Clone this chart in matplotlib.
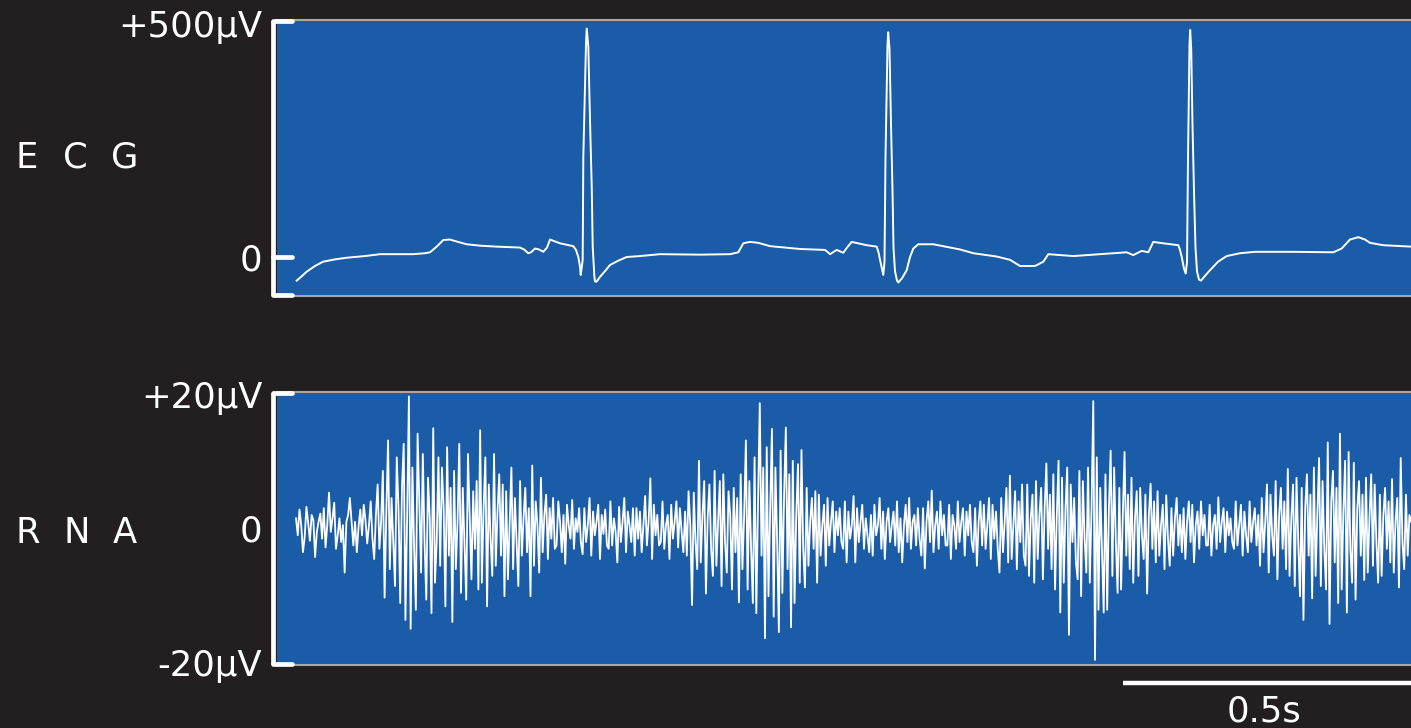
import numpy as np
import matplotlib
matplotlib.use("Agg")
import matplotlib.pyplot as plt
from matplotlib import transforms

plt.rcParams['font.family'] = ['DejaVu Sans']

# ---------------------------------------------------------------- data
# ECG trace vertices: time (s) and amplitude (uV)
ecg_t = [0.0342, 0.0399, 0.0516, 0.0660, 0.0799, 0.1007, 0.1210, 0.1528, 0.1788, 0.2361,
         0.2569, 0.2656, 0.2773, 0.2887, 0.3003, 0.3142, 0.3293, 0.3524, 0.3814, 0.4219,
         0.4288, 0.4363, 0.4410, 0.4479, 0.4549, 0.4623, 0.4688, 0.4740, 0.4826, 0.4913,
         0.5144, 0.5191, 0.5231, 0.5260, 0.5273, 0.5307, 0.5318, 0.5365, 0.5377, 0.5405,
         0.5434, 0.5464, 0.5481, 0.5509, 0.5521, 0.5550, 0.5608, 0.5694, 0.5781, 0.5920,
         0.6071, 0.6302, 0.6649, 0.7344, 0.7865, 0.8009, 0.8095, 0.8212, 0.8356, 0.8559,
         0.9080, 0.9514, 0.9566, 0.9601, 0.9653, 0.9717, 0.9774, 0.9832, 0.9896, 0.9977,
         1.0087, 1.0238, 1.0411, 1.0443, 1.0469, 1.0526, 1.0547, 1.0564, 1.0599, 1.0611,
         1.0634, 1.0660, 1.0686, 1.0703, 1.0729, 1.0764, 1.0786, 1.0851, 1.0932, 1.0990,
         1.1047, 1.1134, 1.1394, 1.1858, 1.2089, 1.2495, 1.2726, 1.2899, 1.3160, 1.3304,
         1.3391, 1.3825, 1.4288, 1.4752, 1.4866, 1.5012, 1.5127, 1.5214, 1.5387, 1.5648,
         1.5677, 1.5707, 1.5747, 1.5776, 1.5799, 1.5816, 1.5842, 1.5854, 1.5872, 1.5894,
         1.5920, 1.5946, 1.5972, 1.6007, 1.6042, 1.6111, 1.6198, 1.6337, 1.6488, 1.6719,
         1.6979, 1.7644, 1.8339, 1.8484, 1.8628, 1.8773, 1.8889, 1.8976, 1.9207, 1.9688]
ecg_uv = [-50, -44, -31, -19, -10, -5, -1.5, 2, 6, 6,
          8, 10, 22, 36, 37, 32, 27, 24, 22, 20,
          16, 8, 10, 18, 16, 11, 20, 37, 33, 29,
          23, 15, 0, -20, -38, -6, 212, 453, 484, 445,
          290, 149, 22, -40, -52, -52, -42, -30, -17, -8,
          0, 2, 6, 5, 6, 10, 29, 32, 30, 23,
          17, 15, 10, 6, 10, 15, 12, 9, 20, 32,
          29, 25, 22, 10, -6, -38, -10, 210, 450, 476,
          440, 280, 140, 20, -30, -50, -54, -45, -28, 0,
          18, 27, 27, 16, 8, 1, -6, -19, -19, -10,
          6, 2, 6, 10, 4, 13, 10, 32, 29, 25,
          15, 0, -25, -35, -10, 210, 450, 481, 440, 280,
          140, 20, -30, -48, -50, -40, -28, -10, 2, 8,
          11, 11, 10, 18, 37, 42, 37, 30, 25, 22]

# RNA trace: amplitude (uV), evenly sampled over rna_span (s)
rna_uv = [
    1.5, -1.0, 2.8, 0.5, -3.5, -1.2, 3.2, 0.8, -1.8, 2.0, 1.2, -4.2, -0.5, 1.0, 2.2,
    -1.5, 3.0, -2.8, 0.5, 5.3, -0.5, 1.5, 3.8, -3.0, -1.0, 1.5, -2.0, 0.5, -6.5, 1.0,
    2.0, 4.5, 1.0, -2.5, 1.0, -3.5, 0.2, 2.8, -1.0, 3.5, 1.2, -2.2, 0.5, 4.0, -1.5,
    -4.5, 2.0, 6.5, -3.0, 1.0, 8.5, -10.2, 2.5, 13.0, -6.0, 4.5, -2.0, -8.5, 10.5, 3.0,
    -11.0, 6.0, 12.5, -13.5, 2.0, 19.5, -14.8, 9.0, -3.0, -12.0, 14.0, 4.0, -6.5, 11.0, -2.0,
    -10.5, 7.5, 1.5, -12.5, 14.8, -8.0, -2.0, 10.5, -5.5, 9.0, 3.0, -11.5, 12.0, -4.0, 6.0,
    -13.8, 8.5, -6.0, 1.0, 12.5, -9.5, 6.0, -2.5, -10.5, 11.0, 2.0, -7.5, 5.5, -3.0, 7.0,
    -9.0, 14.5, -8.0, 3.0, 10.5, -11.5, 6.5, -1.5, -7.0, 11.0, -5.5, 2.5, 8.0, -4.0, 6.5,
    -10.0, 5.5, -7.5, 1.0, 9.0, -6.0, 4.5, -2.0, -8.5, 7.0, -4.0, 1.5, 6.0, -3.5, 3.0,
    -10.0, 9.3, -5.5, 4.0, 0.5, -6.5, 7.5, -3.5, 2.0, 5.0, -4.5, 3.0, -1.5, 4.5, -3.0,
    -2.5, 4.0, 1.0, -3.5, 2.0, -5.2, 3.5, 0.5, -1.5, 4.2, -3.0, 1.5, -0.5, 3.0, -2.0,
    -3.8, 3.0, -2.0, 0.5, 4.5, -4.0, 2.5, -1.0, 1.0, 3.5, -4.5, 2.0, -0.8, 2.8, -2.5,
    -3.0, 4.0, -2.5, 1.5, -0.5, -5.0, 3.2, -2.0, 1.0, 4.5, -3.5, 2.5, 0.5, -2.0, 3.0,
    -4.0, 3.0, -1.5, 2.5, -3.5, 0.5, 4.8, -2.5, 1.0, 7.4, -4.5, 3.5, -1.0, 2.0, -2.5,
    -2.0, 4.0, -3.0, 0.5, 2.0, -4.5, 3.5, -1.5, 1.0, 4.0, -2.8, 3.0, -0.5, -3.5, 2.5,
    -4.0, 5.5, 0.5, -11.3, 5.3, -2.0, -6.0, 10.0, -5.0, 2.0, 7.0, -9.6, 1.5, 6.5, -3.0,
    -7.0, 8.5, -5.5, 1.0, 7.0, -8.5, 8.0, -2.0, -6.5, 5.5, 2.0, -9.0, 6.0, -3.5, 4.5,
    -10.9, 8.0, -6.0, 2.0, 13.0, -9.0, 7.0, -3.0, -11.0, 10.5, -12.5, 4.0, 18.5, -4.0, 9.0,
    -16.2, 12.0, -10.0, 3.0, 14.7, -13.0, 9.0, -2.0, -15.3, 11.5, -9.5, 5.0, 14.9, -6.0, 8.0,
    -14.6, 10.0, -11.0, 2.0, 9.5, -8.0, 11.6, -3.0, -8.7, 6.0, -5.5, 1.0, 4.5, -3.0, 5.5,
    -8.0, 5.0, -4.0, 0.5, 3.5, -5.5, 4.5, -2.5, 1.0, 4.0, -3.5, 2.5, -1.0, 3.0, -2.0,
    -3.0, 4.0, -5.0, 2.5, -1.5, 0.5, 4.8, -5.0, 3.0, -2.0, 1.0, 3.5, -3.0, 1.5, -1.0,
    -3.5, 2.0, -4.0, 3.5, -1.0, 0.5, 4.5, -3.0, 2.5, -4.5, 1.0, 3.0, -2.0, 0.5, 2.5,
    -2.5, 4.0, -3.5, 1.5, -5.0, 0.5, 3.5, -2.0, 4.5, -3.0, 1.0, 2.0, -2.5, 3.0, -1.5,
    -4.0, 3.0, -5.9, 1.0, 4.0, -2.0, 5.6, -3.5, 0.5, 2.5, -3.0, 4.0, -1.0, 2.0, -2.5,
    -2.5, 3.5, -4.5, 2.0, 0.5, -3.0, 4.0, -2.0, 1.0, 3.0, -4.0, 2.5, -1.0, 3.5, -2.0,
    -3.5, 3.0, -5.5, 1.0, 4.0, -2.5, 3.5, -3.0, 0.5, 4.5, -4.5, 3.5, -1.5, 2.5, -3.0,
    -6.5, 4.5, -3.5, 1.0, 6.0, -5.0, 7.8, -4.5, 0.5, 5.5, -6.0, 4.0, -2.0, 6.5, -4.0,
    -5.5, 6.5, -7.0, 1.5, 5.0, -8.0, 7.0, -4.5, 2.0, 6.0, -7.5, 3.0, 9.6, -3.0, 5.0,
    -6.0, 8.0, -9.0, 2.0, 10.0, -12.4, 7.5, -8.0, 3.0, 9.0, -15.7, 6.5, -2.0, 4.5, -5.0,
    -7.5, 8.5, -10.0, 7.0, -1.5, -6.5, 9.0, -8.0, 3.0, 18.8, -19.4, 10.5, -12.0, 6.0, -3.0,
    -12.4, 8.0, -12.0, 3.0, 11.5, -7.0, 9.0, -2.0, -9.5, 6.0, -9.0, 2.0, 11.3, -4.0, 5.0,
    -6.0, 7.5, -8.0, 1.5, 5.5, -7.0, 6.0, -1.0, -4.5, 5.0, -9.6, 2.0, 6.6, -3.0, 4.0,
    -5.0, 5.5, -4.0, 0.5, 3.5, -6.0, 4.9, -1.5, -5.5, 3.0, -4.0, 1.5, 4.5, -2.5, 2.0,
    -3.5, 3.0, -4.5, 1.0, 4.0, -2.0, 3.5, -5.0, 0.5, 2.5, -3.0, 4.0, -1.0, 2.0, -2.5,
    -2.5, 3.5, -4.0, 0.5, 2.0, -3.0, 4.6, -2.0, 1.0, 3.0, -3.5, 2.5, -1.0, 1.5, -2.0,
    -3.0, 4.0, -2.5, 0.5, 3.5, -4.0, 2.5, -1.0, -3.5, 4.0, -2.0, 1.0, 3.0, -2.5, 2.0,
    -5.5, 4.5, -3.5, 1.0, 6.5, -6.5, 5.0, -1.0, -4.0, 7.0, -7.5, 2.0, 6.0, -3.0, 4.0,
    -6.0, 8.8, -7.0, 1.5, 6.5, -8.5, 7.5, -2.0, -10.0, 6.0, -13.5, 3.0, 8.0, -4.0, 5.0,
    -10.3, 9.0, -7.0, 2.0, 10.4, -8.5, 7.0, -3.0, -9.0, 12.7, -14.1, 4.0, 8.5, -5.0, 6.0,
    -11.0, 14.0, -9.0, 2.5, 10.0, -12.4, 11.3, -3.0, -8.0, 9.7, -10.5, 3.0, 7.0, -4.0, 5.0,
    -7.6, 7.5, -6.5, 1.5, 8.0, -5.5, 6.5, -2.0, -8.0, 5.0, -7.0, 2.0, 6.0, -3.0, 4.0,
    -5.0, 7.3, -6.5, 1.0, 4.5, -8.7, 10.4, -2.0, -6.0, 5.0, -4.0, 2.0, 1.0,
]
rna_span = (0.033, 1.969)

ecg_ticks = [500, 0]
ecg_ticklabels = ['+500\u03bcV', '0']
rna_ticks = [20, 0, -20]
rna_ticklabels = ['+20\u03bcV', '0', '-20\u03bcV']
scale_bar_s = 0.5
scale_bar_label = '0.5s'

# ---------------------------------------------------------------- style
W, H = 1411, 728
BG = '#231f20'
PANEL = '#1a5ca8'
EDGE = '#a8a8a8'
FS = 25.5

fig = plt.figure(figsize=(W / 100, H / 100), dpi=100, facecolor=BG)


def panel(top_px, bot_px, ylim):
    ax = fig.add_axes([277 / W, 1 - bot_px / H, (W - 277) / W, (bot_px - top_px) / H])
    ax.set_facecolor(PANEL)
    ax.set_xlim(0, (W - 277) / 576)
    ax.set_ylim(*ylim)
    ax.set_xticks([])
    ax.set_yticks([])
    for s in ('left', 'right'):
        ax.spines[s].set_visible(False)
    for s in ('top', 'bottom'):
        ax.spines[s].set_color(EDGE)
        ax.spines[s].set_linewidth(1.5)
    return ax


def bracket(ax, ticks, ends):
    ty = ax.get_yaxis_transform()
    ax.plot([-0.0035, -0.0035], ends, transform=ty, color='white', lw=3.4,
            clip_on=False, solid_capstyle='butt', zorder=5)
    for v in ticks:
        ax.plot([-0.0035, 0.013], [v, v], transform=ty, color='white', lw=3.4,
                clip_on=False, solid_capstyle='round', zorder=5)


def ylabels(ax, vals, labels, drops):
    # drops: baseline distance (px) below the tick
    ty = ax.get_yaxis_transform()
    for v, lab, d in zip(vals, labels, drops):
        tr = transforms.offset_copy(ty, fig=fig, x=0, y=-d, units='dots')
        ax.text(-0.013, v, lab, transform=tr, color='white', fontsize=FS,
                ha='right', va='baseline', clip_on=False)


def spaced_name(letters, xs_px, baseline_px):
    for ch, xp in zip(letters, xs_px):
        fig.text(xp / W, 1 - baseline_px / H, ch, color='white', fontsize=FS,
                 ha='center', va='baseline')


# ECG panel
ax1 = panel(20, 296, (-82.6, 502.1))
ax1.plot(ecg_t, ecg_uv, color='white', lw=1.4, solid_joinstyle='round')
ylo, yhi = ax1.get_ylim()
bracket(ax1, [yhi - 2, 0, ylo + 2], (ylo + 2, yhi - 2))
ylabels(ax1, ecg_ticks, ecg_ticklabels, [16, 13])
spaced_name('ECG', [27, 75, 125], 168)

# RNA panel
ax2 = panel(392, 665, (-20.15, 20.15))
rna_t = np.linspace(rna_span[0], rna_span[1], len(rna_uv))
ax2.plot(rna_t, rna_uv, color='white', lw=1.3)
ylo, yhi = ax2.get_ylim()
bracket(ax2, [yhi - 0.15, ylo + 0.15], (ylo + 0.15, yhi - 0.15))
ylabels(ax2, rna_ticks, rna_ticklabels, [15, 13, 12])
spaced_name('RNA', [28, 77, 125], 543)

# time scale bar below the RNA panel
x_end = ax2.get_xlim()[1]
tb = transforms.blended_transform_factory(ax2.transData, fig.transFigure)
ax2.plot([x_end - scale_bar_s, x_end], [1 - 683 / H] * 2, transform=tb,
         color='white', lw=3.2, clip_on=False, solid_capstyle='butt')
ax2.text(x_end - scale_bar_s / 2 - 0.005, 1 - 722 / H, scale_bar_label, transform=tb,
         color='white', fontsize=FS, ha='center', va='baseline', clip_on=False)

fig.savefig('out.png', dpi=100, facecolor=BG)
